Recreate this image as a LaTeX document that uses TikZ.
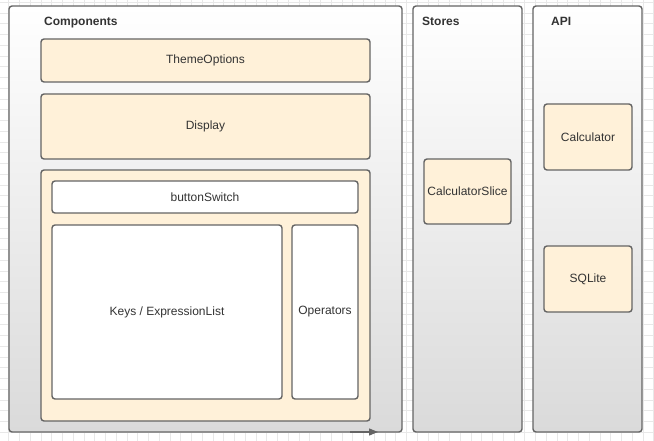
\documentclass[tikz,border=0pt]{standalone}
\usepackage{fontspec}
\setmainfont{Liberation Sans}
\usetikzlibrary{arrows.meta}
\definecolor{edge}{HTML}{646464}
\definecolor{cream}{HTML}{FFF1D9}
\definecolor{txt}{HTML}{333333}
\definecolor{gridc}{HTML}{E8E8E8}
\definecolor{shadebot}{HTML}{DADADA}
\begin{document}
\begin{tikzpicture}[x=1pt,y=-1pt,
  base/.style={draw=edge, line width=1.4pt, rounded corners=3pt, inner sep=0pt, outer sep=0pt,
    text=txt, font=\fontsize{12}{14}\selectfont},
  container/.style={base, top color=white, bottom color=shadebot, anchor=north west},
  creambox/.style={base, fill=cream},
  whitebox/.style={base, fill=white},
  title/.style={anchor=base west, inner sep=0pt, text=txt, font=\bfseries\fontsize{12}{14}\selectfont}
]
\useasboundingbox (0,0) rectangle (654,441);
\fill[white] (0,0) rectangle (654,441);
\foreach \i in {0,...,61} \draw[gridc, line width=0.7pt] ({\i*10.75-2},0) -- ++(0,441);
\foreach \j in {0,...,41} \draw[gridc, line width=0.7pt] (0,{\j*10.75+2.25}) -- ++(654,0);

% containers
\node[container, minimum width=393pt, minimum height=426pt] (comp) at (9,6) {};
\node[container, minimum width=109pt, minimum height=426pt] (stores) at (413,6) {};
\node[container, minimum width=109pt, minimum height=426pt] (api) at (533,6) {};
\node[title] (tcomp) at (44,25.5) {Components};
\node[title] (tstores) at (422,25.5) {Stores};
\node[title] (tapi) at (551,25.5) {API};

% components
\node[creambox, minimum width=329pt, minimum height=43pt] (theme) at (205.5,60.5) {ThemeOptions};
\node[creambox, minimum width=329pt, minimum height=65pt] (display) at (205.5,126.5) {Display};
\node[creambox, minimum width=329pt, minimum height=251pt] (keypad) at (205.5,295.5) {};
\node[whitebox, minimum width=306pt, minimum height=32pt] (switch) at (205,197) {buttonSwitch};
\node[whitebox, minimum width=230pt, minimum height=174pt] (keys) at (167,312) {Keys / ExpressionList};
\node[whitebox, minimum width=66pt, minimum height=174pt] (ops) at (325,312) {Operators};

% stores
\node[creambox, minimum width=87pt, minimum height=65pt] (slice) at (467.5,191.5) {CalculatorSlice};

% api
\node[creambox, minimum width=88pt, minimum height=66pt] (calc) at (588,137) {Calculator};
\node[creambox, minimum width=88pt, minimum height=66pt] (sqlite) at (588,279) {SQLite};

% arrow along bottom edge
\coordinate (as) at (350,432);
\coordinate (ae) at (378,432);
\draw[edge, line width=1.4pt, -{Triangle[length=9pt,width=7pt]}] (as) -- (ae);
\end{tikzpicture}
\end{document}
